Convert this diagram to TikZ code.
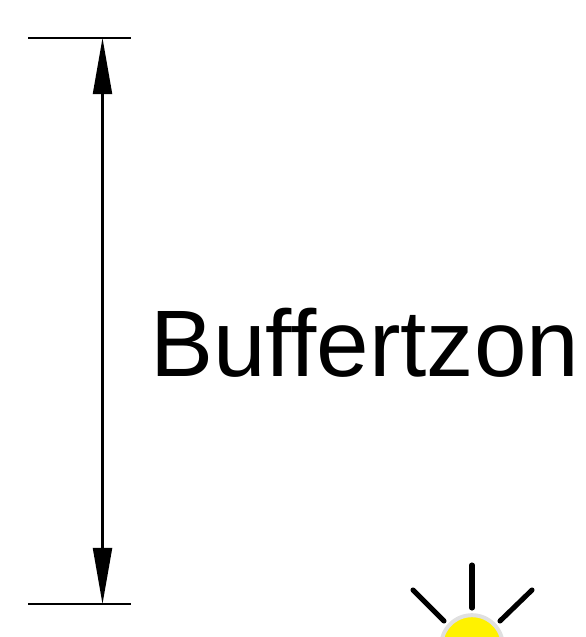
\documentclass[tikz,border=0pt]{standalone}
\usepackage{fontspec}
\setmainfont{Liberation Sans}
\usepackage{xcolor}
\usetikzlibrary{arrows.meta}
\definecolor{lampFill}{HTML}{FFF200}
\definecolor{lampBorder}{HTML}{E0E0E0}
\begin{document}
\begin{tikzpicture}[
  x=0.025cm, y=-0.025cm,
  dimtick/.style={line width=1.3pt},
  dimarr/.style={{Triangle[length=1.4cm, width=0.475cm]}-{Triangle[length=1.4cm, width=0.475cm]}, line width=1.45pt},
  ray/.style={line width=3.6pt, line cap=round},
  lamp/.style={circle, fill=lampFill, draw=lampBorder, line width=2.85pt, minimum size=1.54cm, inner sep=0pt},
  zonetext/.style={anchor=base west, inner sep=0pt, font=\fontsize{67.2}{80}\selectfont},
]
  \useasboundingbox (0,0) rectangle (585,637);
  \clip (0,0) rectangle (585,637);
  \coordinate (topl) at (28,38);
  \coordinate (topr) at (131,38);
  \coordinate (botl) at (28,604);
  \coordinate (botr) at (131,604);
  \coordinate (dimtop) at (102.5,38);
  \coordinate (dimbot) at (102.5,604);

  \draw[dimtick] (topl) -- (topr);
  \draw[dimtick] (botl) -- (botr);
  \draw[dimarr] (dimtop) -- (dimbot);
  \node[zonetext] (zone) at (150,376) {Buffertzon};

  % lamp at the lower edge, cut off by the page
  \node[lamp] (bulb) at (472,646) {};
  \coordinate (rayl) at (413,590);
  \coordinate (raylend) at (444,621);
  \coordinate (raym) at (472,565);
  \coordinate (raymend) at (472,608);
  \coordinate (rayr) at (532,590);
  \coordinate (rayrend) at (500,621);
  \draw[ray] (rayl) -- (raylend);
  \draw[ray] (raym) -- (raymend);
  \draw[ray] (rayr) -- (rayrend);
\end{tikzpicture}
\end{document}
